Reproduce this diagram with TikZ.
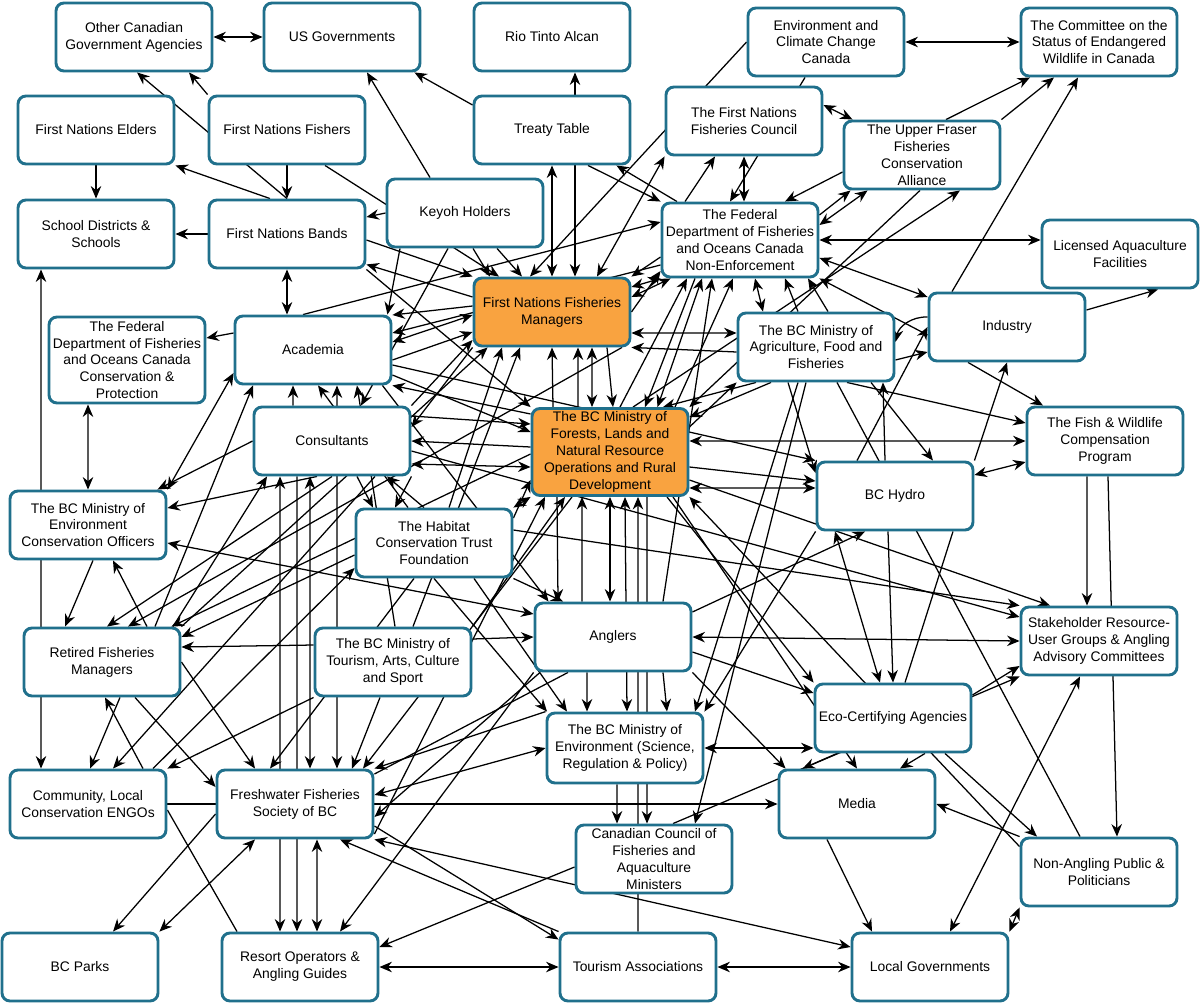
\documentclass[tikz,border=0pt]{standalone}
\usepackage{fontspec}
\setmainfont{Liberation Sans}
\usetikzlibrary{arrows.meta,positioning}
\definecolor{edgeblue}{HTML}{20708C}
\definecolor{hubfill}{HTML}{F9A340}
\pgfdeclarelayer{bg}
\pgfsetlayers{bg,main}
\tikzset{
  actor/.style={draw=edgeblue,line width=1.65pt,rounded corners=4.5pt,fill=white,align=center,
    minimum width=3.12cm,minimum height=1.36cm,inner sep=1pt,font=\fontsize{7.9}{9.6}\selectfont},
  hub/.style={actor,fill=hubfill},
  tie/.style={-{Stealth[length=2.5mm,width=2.1mm]},line width=0.72pt},
  mutual/.style={{Stealth[length=2.5mm,width=2.1mm]}-{Stealth[length=2.5mm,width=2.1mm]},line width=0.72pt},
  bare/.style={line width=0.72pt}
}

\begin{document}
\begin{tikzpicture}[x=0.02cm,y=-0.02cm]
\useasboundingbox (0,0) rectangle (1200,1004);
% actors
\node[actor] (ocga) at (134,37) {Other Canadian\\Government Agencies};
\node[actor] (usg) at (342,37) {US Governments};
\node[actor] (rta) at (552,37) {Rio Tinto Alcan};
\node[actor] (eccc) at (826,42) {Environment and\\Climate Change\\Canada};
\node[actor] (cosewic) at (1099,42) {The Committee on the\\Status of Endangered\\Wildlife in Canada};
\node[actor] (fne) at (96,130) {First Nations Elders};
\node[actor] (fnf) at (287,130) {First Nations Fishers};
\node[actor] (treaty) at (552,130) {Treaty Table};
\node[actor] (fnfc) at (744,121) {The First Nations\\Fisheries Council};
\node[actor] (uffca) at (922,155) {The Upper Fraser\\Fisheries\\Conservation\\Alliance};
\node[actor] (sds) at (96,234) {School Districts \&\\Schools};
\node[actor] (fnb) at (287,234) {First Nations Bands};
\node[actor] (keyoh) at (465,213) {Keyoh Holders};
\node[actor,minimum height=1.48cm] (dfone) at (740,240) {The Federal\\Department of Fisheries\\and Oceans Canada\\Non-Enforcement};
\node[actor] (laf) at (1120,254) {Licensed Aquaculture\\Facilities};
\node[hub] (fnfm) at (552,312) {First Nations Fisheries\\Managers};
\node[actor,minimum height=1.72cm] (dfocp) at (127,360) {The Federal\\Department of Fisheries\\and Oceans Canada\\Conservation \&\\Protection};
\node[actor] (acad) at (313,350) {Academia};
\node[actor] (agri) at (816,347) {The BC Ministry of\\Agriculture, Food and\\Fisheries};
\node[actor] (ind) at (1007,327) {Industry};
\node[hub,minimum height=1.74cm] (flnro) at (610,452) {The BC Ministry of\\Forests, Lands and\\Natural Resource\\Operations and Rural\\Development};
\node[actor] (cons) at (332,441) {Consultants};
\node[actor] (fwcp) at (1105,441) {The Fish \& Wildlife\\Compensation\\Program};
\node[actor] (hydro) at (895,496) {BC Hydro};
\node[actor] (cos) at (88,525) {The BC Ministry of\\Environment\\Conservation Officers};
\node[actor] (hctf) at (434,543) {The Habitat\\Conservation Trust\\Foundation};
\node[actor] (angl) at (613,637) {Anglers};
\node[actor] (surg) at (1099,641) {Stakeholder Resource-\\User Groups \& Angling\\Advisory Committees};
\node[actor] (rfm) at (102,662) {Retired Fisheries\\Managers};
\node[actor] (tacs) at (393,662) {The BC Ministry of\\Tourism, Arts, Culture\\and Sport};
\node[actor] (eca) at (893,718) {Eco-Certifying Agencies};
\node[actor,minimum height=1.4cm] (envsrp) at (625,748) {The BC Ministry of\\Environment (Science,\\Regulation \& Policy)};
\node[actor] (engo) at (88,804) {Community, Local\\Conservation ENGOs};
\node[actor] (ffsbc) at (295,804) {Freshwater Fisheries\\Society of BC};
\node[actor] (media) at (857,804) {Media};
\node[actor] (ccfam) at (654,859) {Canadian Council of\\Fisheries and\\Aquaculture\\Ministers};
\node[actor] (napp) at (1099,872) {Non-Angling Public \&\\Politicians};
\node[actor] (parks) at (80,967) {BC Parks};
\node[actor] (roag) at (300,967) {Resort Operators \&\\Angling Guides};
\node[actor] (tour) at (638,967) {Tourism Associations};
\node[actor] (lgov) at (930,967) {Local Governments};

\begin{pgfonlayer}{bg}
\fill[white] (0,0) rectangle (1200,1004);
% top left
\draw[mutual] (ocga) -- (usg);
\draw[tie] (fnf.north west) -- ([xshift=1.1cm]ocga.south);
\draw[tie] (fnb.north) -- ([xshift=0.06cm]ocga.south);
\draw[tie] (fne) -- (sds);
\draw[tie] (fnb) -- (sds);
\draw[tie] ([xshift=-0.34cm]fnb.north) -- (fne.south east);
\draw[tie] (fnf) -- (fnb);
\draw[tie] (keyoh.west) -- ([yshift=0.34cm]fnb.east);
\draw[mutual] (fnb.south) -- (fnb.south |- acad.north);
\draw[tie] ([yshift=-0.12cm]fnb.east) -- (fnfm.north west);
\draw[tie] ([yshift=0.3cm]fnfm.west) -- ([yshift=0.1cm]fnb.south east);
\draw[tie] (fnb.south east) -- (flnro.north west);
\draw[tie] ([xshift=0.76cm]fnf.south) -- ([xshift=-1.06cm]fnfm.north);
\draw[tie] ([xshift=-0.7cm]keyoh.north) -- ([xshift=0.5cm]usg.south);
\draw[tie] ([xshift=0.16cm]keyoh.south) -- ([xshift=-1.24cm]fnfm.north);
\draw[tie] ([xshift=0.64cm]keyoh.south) -- ([xshift=-0.6cm]fnfm.north);
\draw[tie] ([xshift=-0.34cm]keyoh.south) -- ([xshift=0.58cm]cons.north);
\draw[tie] ([xshift=-1.3cm]keyoh.south) -- ([xshift=-0.1cm]acad.north east);
% treaty, council, eccc
\draw[tie] ([yshift=0.5cm]treaty.west) -- ([xshift=-0.14cm]usg.south east);
\draw[tie] ([xshift=0.46cm]treaty.north) -- ([xshift=0.46cm]rta.south);
\draw[mutual] (treaty.south) -- (fnfm.north);
\draw[tie] ([xshift=0.46cm]treaty.south) -- ([xshift=0.46cm]fnfm.north);
\draw[tie] ([xshift=0.72cm]treaty.south) -- (dfone.north west);
\draw[tie] ([xshift=-1.26cm]dfone.north) -- ([xshift=-0.3cm]treaty.south east);
\draw[mutual] (fnfc.south) -- (fnfc.south |- dfone.north);
\draw[tie] ([xshift=-1.1cm]dfone.north) -- ([xshift=-0.58cm]fnfc.south);
\draw[tie] (eccc.west) -- ([xshift=-0.44cm]fnfm.north);
\draw[mutual] ([xshift=0.9cm]fnfm.north) -- (fnfc.south west);
\draw[tie] ([xshift=-0.42cm]eccc.south) -- ([xshift=-0.2cm]dfone.north);
\draw[mutual] (eccc) -- (cosewic);
\draw[tie] ([xshift=0.48cm]uffca.north) -- ([xshift=-1.38cm]cosewic.south);
\draw[tie] (uffca.north east) -- ([xshift=-0.9cm]cosewic.south);
\draw[tie] ([xshift=-1.1cm]ind.north) -- ([xshift=-0.42cm]cosewic.south);
\draw[mutual] ([yshift=0.32cm]fnfc.east) -- ([xshift=0.2cm]uffca.north west);
\draw[tie] ([yshift=-0.34cm]uffca.west) -- ([xshift=0.9cm]dfone.north);
\draw[tie] ([yshift=0.5cm]dfone.east) -- ([xshift=0.16cm]uffca.south west);
\draw[mutual] ([yshift=0.3cm]dfone.east) -- ([xshift=0.5cm]uffca.south west);
\draw[mutual] (dfone.east) -- (dfone.east -| laf.west);
\draw[mutual] ([yshift=-0.36cm]dfone.east) -- ([yshift=0.6cm]ind.west);
\draw[tie] ([xshift=-0.04cm]uffca.south) -- (flnro.north east);
\draw[tie] ([xshift=0.46cm]flnro.north) -- ([xshift=0.76cm]uffca.south);
\draw[tie] ([yshift=0.34cm]ind.east) -- ([xshift=0.76cm]laf.south);
\draw[tie] ([yshift=-0.16cm]ind.west) -- (dfone.south east);
% into dfone from below
\draw[tie] ([xshift=0.2cm]flnro.north) -- ([xshift=-1.06cm]dfone.south);
\draw[mutual] ([xshift=0.95cm]flnro.north) -- ([xshift=-0.76cm]dfone.south);
\draw[tie] ([xshift=1.0cm]angl.north) -- ([xshift=-0.56cm]dfone.south);
\draw[tie] ([xshift=1.3cm]flnro.north) -- ([xshift=-0.14cm]dfone.south);
\draw[tie] ([xshift=-0.9cm]dfone.south) -- ([xshift=0.7cm]flnro.north);
\draw[mutual] ([xshift=-1.06cm]agri.north) -- ([xshift=0.3cm]dfone.south);
\draw[tie] ([xshift=-0.36cm]agri.north) -- ([xshift=0.9cm]dfone.south);
\draw[tie] ([xshift=0.24cm]agri.north) -- ([xshift=1.36cm]dfone.south);
\draw[mutual] ([yshift=0.3cm]fnfm.east) -- ([xshift=0.2cm]dfone.south west);
\draw[mutual] ([yshift=0.5cm]fnfm.east) -- (dfone.south west);
\draw[tie] ([yshift=-0.34cm]dfone.west) -- (fnfm.north east);
\draw[tie] (fnfm.east) -- ([yshift=-0.62cm]dfone.west);
% academia
\draw[tie] ([xshift=-0.2cm]acad.north) -- ([yshift=0.36cm]dfone.west);
\draw[tie] ([yshift=0.34cm]acad.west) -- ([yshift=0.44cm]dfocp.east);
\draw[mutual] ([yshift=-0.46cm]acad.west) -- (cos.north east);
\draw[tie] ([xshift=1.06cm]rfm.north) -- ([xshift=-1.2cm]acad.south);
\draw[tie] ([xshift=-0.78cm]cons.north) -- ([xshift=-0.4cm]acad.south);
\draw[tie] ([xshift=-0.52cm]hctf.north) -- ([xshift=0.1cm]acad.south);
\draw[mutual] ([xshift=0.48cm]acad.south) -- ([xshift=0.84cm]ffsbc.north);
\draw[tie] ([xshift=0.04cm]tacs.north) -- ([xshift=0.88cm]acad.south);
\draw[tie] ([yshift=0.76cm]flnro.west) -- (acad.south east);
\draw[tie] ([yshift=0.12cm]fnfm.west) -- ([yshift=0.7cm]acad.east);
\draw[tie] ([yshift=-0.5cm]dfone.west) -- ([yshift=0.34cm]acad.east);
\draw[mutual] ([yshift=0.16cm]acad.east) -- ([yshift=-0.06cm]fnfm.west);
\draw[tie] ([yshift=-0.2cm]acad.east) -- ([yshift=-0.4cm]fnfm.west);
\draw[tie] ([yshift=-0.5cm]acad.east) -- ([yshift=0.4cm]flnro.west);
\draw[tie] ([yshift=-0.3cm]acad.east) -- (hydro.north west);
\draw[tie] ([xshift=-0.2cm]acad.south east) -- ([xshift=0.3cm]angl.north west);
\draw[mutual] ([xshift=-0.78cm]dfocp.south) -- (cos.north);
% consultants
\draw[tie] (fnfm.south west) -- ([yshift=0.28cm]cons.east);
\draw[tie] (cons.north east) -- ([yshift=-0.56cm]fnfm.west);
\draw[tie] ([yshift=0.1cm]flnro.west) -- (cons.east);
\draw[mutual] ([yshift=-0.3cm]flnro.west) -- ([yshift=-0.46cm]cons.east);
\draw[tie] ([yshift=0.5cm]cons.east) -- ([yshift=0.56cm]flnro.west);
\draw[tie] ([xshift=-0.2cm]hctf.north) -- ([xshift=1.1cm]cons.south);
\draw[tie] ([xshift=0.5cm]cons.south) -- ([xshift=-1.22cm]hctf.north);
\draw[tie] (cons.south east) -- ([xshift=-0.78cm]hctf.north);
\draw[tie] ([xshift=1.42cm]rfm.north) -- ([xshift=-1.3cm]cons.south);
\draw[mutual] ([xshift=-1.04cm]cons.south) -- ([xshift=-0.4cm]roag.north);
\draw[tie] ([xshift=-0.7cm]cons.south) -- ([xshift=-0.06cm]roag.north);
\draw[mutual] ([xshift=-0.44cm]cons.south) -- ([xshift=0.3cm]ffsbc.north);
\draw[tie] (cons.south) -- ([xshift=0.1cm]rfm.north);
\draw[tie] ([xshift=0.86cm]cons.south) -- ([xshift=0.5cm]engo.north);
\draw[tie] ([xshift=-0.3cm]cons.south) -- ([yshift=0.34cm]cos.east);
\draw[tie] (cons.west) -- ([xshift=-0.2cm]cos.north east);
\draw[tie] ([yshift=-0.2cm]cons.east) -- ([yshift=0.48cm]surg.west);
% habitat trust
\draw[tie] ([xshift=0.3cm]hctf.north) -- ([xshift=-1.0cm]fnfm.south);
\draw[mutual] (hctf.north east) -- (flnro.south west);
\draw[tie] ([yshift=0.5cm]hctf.east) -- ([yshift=-0.56cm]flnro.west);
\draw[tie] ([yshift=0.26cm]hctf.east) -- (surg.north west);
\draw[tie] (hctf.south east) -- ([xshift=-1.0cm]angl.north);
\draw[tie] (hctf.south) -- ([xshift=-1.56cm]envsrp.north);
\draw[tie] ([xshift=0.8cm]hctf.south) -- ([xshift=-1.16cm]envsrp.north);
\draw[tie] ([xshift=-0.4cm]hctf.south) -- ([xshift=-0.5cm]ffsbc.north);
\draw[tie] ([yshift=-0.24cm]hctf.west) -- ([yshift=0.5cm]rfm.east);
\draw[tie] ([xshift=1.3cm]engo.north) -- ([yshift=-0.5cm]hctf.west);
% tourism ministry
\draw[tie] ([xshift=0.4cm]tacs.north) -- ([xshift=-0.64cm]fnfm.south);
\draw[tie] (tacs.north east) -- ([xshift=-0.9cm]flnro.south);
\draw[tie] ([yshift=0.46cm]tacs.east) -- (angl.west);
\draw[tie] ([yshift=0.34cm]tacs.west) -- ([yshift=0.3cm]rfm.east);
\draw[tie] (tacs.south west) -- (engo.north east);
\draw[tie] ([xshift=-0.26cm]tacs.south) -- ([xshift=1.14cm]ffsbc.north);
% retired managers, officers, engos
\draw[tie] ([xshift=0.9cm]rfm.north) -- ([xshift=0.5cm]cos.south);
\draw[tie] ([xshift=0.1cm]cos.south) -- ([xshift=-0.74cm]rfm.north);
\draw[tie] ([xshift=1.4cm]fnfm.south) -- ([xshift=0.52cm]rfm.north);
\draw[tie] ([yshift=-0.04cm]flnro.west) -- ([xshift=-0.2cm]rfm.north east);
\draw[tie] (rfm.north east) -- ([xshift=0.3cm]fnfm.south west);
\draw[tie] ([xshift=0.66cm]rfm.south) -- ([yshift=0.34cm]ffsbc.west);
\draw[tie] (rfm.east) -- ([xshift=-0.8cm]ffsbc.north);
\draw[tie] ([xshift=0.36cm]rfm.south) -- ([xshift=0.04cm]engo.north);
\draw[tie] ([xshift=1.1cm]engo.north) -- ([xshift=0.06cm]rfm.south);
\draw[mutual] ([xshift=-1.1cm]sds.south) -- ([xshift=-0.94cm]engo.north);
\draw[mutual] ([yshift=0.46cm]angl.west) -- ([yshift=-0.36cm]cos.east);
\draw[tie] (engo.east) -- (media.west);
\draw[bare] ([yshift=-0.12cm]engo.east) -- ([xshift=-1.26cm]roag.north);
% freshwater society, resorts, tourism
\draw[tie] ([yshift=-0.2cm]ffsbc.west) -- ([xshift=0.66cm]parks.north);
\draw[mutual] ([xshift=-0.8cm]ffsbc.south) -- (parks.north east);
\draw[mutual] ([xshift=0.44cm]ffsbc.south) -- ([xshift=0.34cm]roag.north);
\draw[mutual] (roag) -- (tour);
\draw[mutual] (tour) -- (lgov);
\draw[tie] ([yshift=-0.44cm]ffsbc.east) -- ([yshift=-0.16cm]tour.north west);
\draw[tie] (tour.north west) -- ([xshift=0.9cm]ffsbc.south);
\draw[mutual] (ffsbc.south east) -- ([yshift=0.4cm]lgov.west);
\draw[tie] ([yshift=-0.6cm]ffsbc.east) -- ([xshift=-1.3cm]flnro.south);
\draw[tie] ([xshift=-0.76cm]flnro.south) -- ([xshift=1.36cm]ffsbc.north);
\draw[tie] (envsrp.north west) -- (ffsbc.north east);
\draw[mutual] ([yshift=0.18cm]ffsbc.east) -- (envsrp.west);
\draw[tie] ([xshift=-1.46cm]angl.south) -- ([yshift=-0.26cm]ffsbc.east);
\draw[bare] ([yshift=0.6cm]ffsbc.east) -- ([xshift=-0.9cm]angl.south);
\draw[tie] ([yshift=-0.16cm]ccfam.west) -- ([yshift=0.4cm]roag.east);
\draw[tie] (angl.south west) -- ([xshift=0.8cm]roag.north);
\draw[tie] (tour.north) -- ([xshift=0.56cm]flnro.south);
% forests ministry and fisheries managers
\draw[tie] ([xshift=-1.14cm]flnro.north) -- (fnfm.south);
\draw[tie] ([xshift=-0.64cm]flnro.north) -- ([xshift=0.52cm]fnfm.south);
\draw[mutual] ([xshift=0.8cm]fnfm.south) -- ([xshift=-0.36cm]flnro.north);
\draw[tie] ([xshift=1.1cm]fnfm.south) -- ([xshift=0.06cm]flnro.north);
\draw[mutual] ([yshift=-0.42cm]fnfm.east) -- ([yshift=0.28cm]agri.west);
\draw[tie] ([yshift=-0.1cm]agri.west) -- (fnfm.south east);
\draw[tie] ([yshift=0.5cm]flnro.east) -- (agri.south west);
\draw[tie] ([xshift=-0.9cm]agri.south) -- ([yshift=0.7cm]flnro.east);
\draw[tie] ([xshift=-1.2cm]agri.south) -- ([xshift=1.06cm]flnro.north);
\draw[mutual] ([yshift=0.22cm]flnro.east) -- (fwcp.west);
\draw[tie] ([yshift=-0.3cm]flnro.east) -- ([yshift=0.3cm]hydro.west);
\draw[tie] ([yshift=-0.56cm]flnro.east) -- ([xshift=-0.98cm]surg.north);
\draw[mutual] ([yshift=-0.72cm]flnro.east) -- ([yshift=0.16cm]hydro.west);
% forests ministry and anglers, lower nodes
\draw[tie] ([xshift=-1.06cm]flnro.south) -- ([xshift=-1.1cm]angl.north);
\draw[tie] ([xshift=-0.62cm]angl.north) -- ([xshift=-0.56cm]flnro.south);
\draw[mutual] (flnro.south) -- (flnro.south |- angl.north);
\draw[mutual] ([xshift=0.3cm]flnro.south) -- ([xshift=0.04cm]envsrp.north);
\draw[tie] ([xshift=0.74cm]flnro.south) -- ([xshift=-0.14cm]ccfam.north);
\draw[tie] ([xshift=1.14cm]flnro.south) -- (eca.north west);
\draw[tie] ([xshift=1.26cm]flnro.south) -- (media.north);
\draw[tie] ([yshift=-0.2cm]napp.north west) -- (flnro.south east);
% anglers
\draw[mutual] (angl.east) -- (surg.west);
\draw[tie] ([yshift=0.5cm]angl.east) -- ([xshift=-0.6cm]hydro.south);
\draw[tie] ([yshift=-0.3cm]angl.east) -- ([yshift=0.5cm]eca.west);
\draw[tie] ([xshift=-0.52cm]angl.south) -- ([xshift=-0.76cm]envsrp.north);
\draw[tie] ([xshift=1.0cm]angl.south) -- ([xshift=0.84cm]envsrp.north);
\draw[tie] (angl.south east) -- ([xshift=0.16cm]media.north west);
% environment ministry, council
\draw[tie] ([xshift=-0.36cm]agri.south) -- ([xshift=1.4cm]envsrp.north);
\draw[tie] (hydro.south west) -- (envsrp.north east);
\draw[mutual] (envsrp.east) -- (envsrp.east -| eca.west);
\draw[tie] ([xshift=-0.16cm]envsrp.south) -- ([xshift=-0.74cm]ccfam.north);
\draw[tie] ([xshift=-0.2cm]agri.south) -- ([xshift=0.82cm]ccfam.north);
\draw[tie] ([xshift=0.38cm]ccfam.north) -- (surg.south west);
% agriculture, hydro, industry
\draw[tie] ([xshift=-0.56cm]agri.south) -- ([yshift=0.46cm]hydro.west);
\draw[tie] ([xshift=1.1cm]agri.south) -- ([xshift=0.76cm]hydro.north);
\draw[tie] ([xshift=-0.2cm]hydro.north) -- ([xshift=1.34cm]agri.south);
\draw[tie] ([xshift=-0.76cm]hydro.north) -- (ind.west);
\draw[tie] (hydro.north east) -- (ind.south);
\draw[mutual] ([yshift=0.42cm]hydro.east) -- ([yshift=-0.42cm]fwcp.west);
\draw[bare] ([xshift=-0.38cm]napp.north) -- ([xshift=0.42cm]agri.south);
\draw[tie] ([yshift=-0.26cm]agri.east) -- ([yshift=-0.5cm]ind.west);
\draw[tie] ([yshift=0.2cm]ind.west) to[bend right=40] ([yshift=0.1cm]agri.east);
\draw[tie] ([xshift=-0.78cm]ind.south) -- ([xshift=-1.24cm]fwcp.north);
\draw[tie] ([xshift=0.62cm]agri.south) -- ([yshift=0.36cm]fwcp.west);
\draw[tie] ([xshift=-0.36cm]fwcp.south) -- ([xshift=-0.24cm]surg.north);
\draw[tie] ([xshift=0.06cm]fwcp.south) -- ([xshift=0.36cm]napp.north);
% eco-certifying, media, public, local governments
\draw[mutual] ([xshift=-1.2cm]hydro.south) -- ([xshift=-0.26cm]eca.north);
\draw[tie] ([xshift=-0.14cm]hydro.south) -- (eca.north);
\draw[bare] ([xshift=1.16cm]hydro.south) -- ([xshift=0.24cm]eca.north);
\draw[tie] ([yshift=0.46cm]eca.east) -- ([yshift=-0.5cm]surg.west);
\draw[tie] ([xshift=-1.12cm]eca.south) -- ([xshift=0.5cm]media.north west);
\draw[tie] ([xshift=0.64cm]eca.south) -- ([xshift=0.86cm]media.north);
\draw[tie] ([xshift=1.04cm]eca.south) -- ([xshift=-1.24cm]napp.north);
\draw[tie] (napp.north west) -- (media.east);
\draw[tie] ([xshift=-0.6cm]media.south) -- ([xshift=-1.16cm]lgov.north);
\draw[mutual] ([xshift=-0.38cm]surg.south) -- ([xshift=0.4cm]lgov.north);
\draw[mutual] (napp.south west) -- (lgov.north east);
\end{pgfonlayer}
\end{tikzpicture}
\end{document}
